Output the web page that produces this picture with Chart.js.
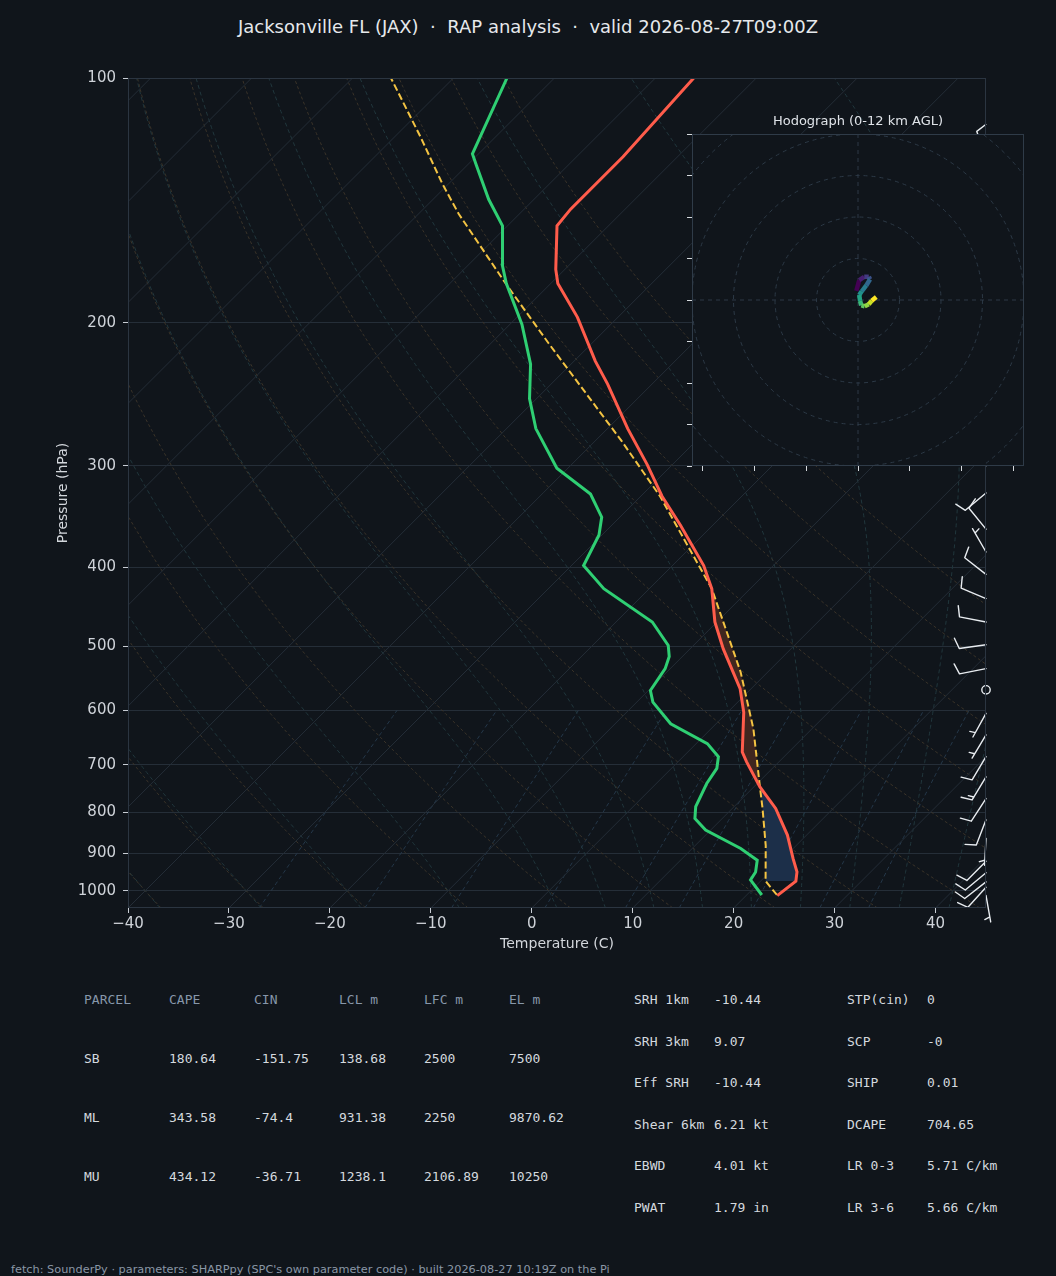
<!DOCTYPE html>
<html>
<head>
<meta charset="utf-8">
<script src="https://cdn.jsdelivr.net/npm/chart.js@4.4.1/dist/chart.umd.min.js"></script>
<style>
html, body { margin: 0; padding: 0; background: #10151b; }
#wrap { position: relative; width: 1056px; height: 1276px; overflow: hidden; font-family: 'DejaVu Sans'; }
#main { position: absolute; left: 0; top: 2px; }
#hodo { position: absolute; left: 640px; top: 100px; }
#title { position: absolute; left: 0; top: 16px; width: 1056px; text-align: center; white-space: pre;
         font-size: 18px; line-height: 22px; color: #e6e9ec; }
.t { position: absolute; white-space: pre; font-family: 'DejaVu Sans Mono'; font-size: 13px;
     line-height: 16px; color: #d4d9df; }
.h { color: #8797aa; }
#foot { position: absolute; left: 11px; top: 1263px; font-size: 11.3px; line-height: 13px;
        color: #8a97a6; white-space: pre; }
</style>
</head>
<body>
<div id="wrap">
  <div id="title">Jacksonville FL (JAX)  ·  RAP analysis  ·  valid 2026-08-27T09:00Z</div>
  <canvas id="main" width="1056" height="960"></canvas>
  <canvas id="hodo" width="416" height="400"></canvas>
  <div id="table"></div>
  <div id="foot">fetch: SounderPy · parameters: SHARPpy (SPC's own parameter code) · built 2026-08-27 10:19Z on the Pi</div>
</div>
<script>
// ---- sounding data (hPa, degC) ----
const tempP = [1014, 973, 948, 913, 854, 792, 745, 694, 675, 603, 564, 504, 467, 425, 398, 355, 327, 299, 270, 238, 223, 197, 179, 172, 152, 145, 125, 100];
const tempC = [23.1, 23.5, 22.7, 21.0, 18.1, 14.3, 10.6, 6.8, 5.4, 1.6, -1.1, -6.7, -10.2, -13.8, -16.9, -23.2, -27.9, -32.5, -38.0, -44.4, -47.9, -54.0, -59.3, -60.9, -65.1, -65.4, -65.4, -66.2];

const dewP = [1012, 970, 948, 917, 887, 842, 815, 788, 738, 707, 684, 659, 623, 586, 567, 533, 515, 499, 467, 425, 398, 365, 347, 325, 302, 270, 248, 225, 201, 179, 170, 152, 141, 128, 124, 100];
const dewC = [21.5, 18.9, 18.6, 17.6, 14.8, 9.5, 7.3, 6.2, 5.0, 4.5, 3.5, 1.1, -4.5, -8.4, -9.8, -10.5, -11.3, -12.5, -16.4, -24.5, -28.8, -30.3, -31.8, -35.2, -41.1, -47.1, -50.7, -54.0, -58.8, -64.4, -66.6, -70.5, -74.5, -79.1, -80.6, -84.7];

const parcelP = [1012, 973, 880, 792, 745, 632, 538, 425, 327, 280, 258, 212, 178, 147, 135, 118, 100];
const parcelC = [23.0, 20.5, 17.0, 13.0, 10.6, 4.2, -2.7, -13.8, -28.1, -37.3, -42.3, -54.3, -64.8, -76.0, -80.6, -87.5, -96.2];
const elP = 425;   // top of the shaded CAPE/CIN area

// wind barbs (hPa, deg, kt)
const windP   = [1013, 990, 975, 950, 920, 862, 818, 770, 724, 684, 643, 605, 566, 533, 498, 467, 437, 408, 383, 359, 324, 300, 270, 240, 210, 180, 150, 125];
const windDir = [170, 222, 232, 230, 225, 183, 201, 213, 211, 211, 211, 209, 0, 259, 262, 281, 293, 308, 330, 321, 230, 340, 265, 270, 268, 270, 265, 340];
const windSpd = [5, 10, 10, 10, 10, 5, 10, 10, 15, 10, 5, 5, 0, 10, 10, 10, 10, 10, 5, 10, 10, 10, 10, 10, 10, 10, 10, 10];

// hodograph trace (u, v)
const hodoU = [-0.4, 0.3, 1.5, 2.6, 2.9, 2.0, 0.9, 0.3, 0.5, 0.8, 1.6, 2.6, 3.3, 4.4];
const hodoV = [2.2, 4.8, 5.6, 5.6, 5.0, 3.5, 2.1, 1.2, -0.2, -1.3, -1.5, -1.0, -0.2, 0.7];

const xTicks = [-40, -30, -20, -10, 0, 10, 20, 30, 40];
const yTicks = [100, 200, 300, 400, 500, 600, 700, 800, 900, 1000];
const hodoXTicks = [-37.5, -25, -12.5, 0, 12.5, 25, 37.5];
const hodoYTicks = [-40, -30, -20, -10, 0, 10, 20, 30, 40];
const hodoRings = [10, 20, 30, 40, 50, 60];

// parameter tables
const parcelHead = ['PARCEL', 'CAPE', 'CIN', 'LCL m', 'LFC m', 'EL m'];
const parcelName = ['SB', 'ML', 'MU'];
const capeVals = ['180.64', '343.58', '434.12'];
const cinVals  = ['-151.75', '-74.4', '-36.71'];
const lclVals  = ['138.68', '931.38', '1238.1'];
const lfcVals  = ['2500', '2250', '2106.89'];
const elVals   = ['7500', '9870.62', '10250'];
const kinLabels = ['SRH 1km', 'SRH 3km', 'Eff SRH', 'Shear 6km', 'EBWD', 'PWAT'];
const kinVals   = ['-10.44', '9.07', '-10.44', '6.21 kt', '4.01 kt', '1.79 in'];
const idxLabels = ['STP(cin)', 'SCP', 'SHIP', 'DCAPE', 'LR 0-3', 'LR 3-6'];
const idxVals   = ['0', '-0', '0.01', '704.65', '5.71 C/km', '5.66 C/km'];

// ---- tables ----
const table = document.getElementById('table');
function put(txt, x, y, cls) {
  const d = document.createElement('div');
  d.className = 't' + (cls ? ' ' + cls : '');
  d.style.left = x + 'px';
  d.style.top = (y - 7) + 'px';
  d.textContent = txt;
  table.appendChild(d);
}
const colX = [84, 169, 254, 339, 424, 509];
parcelHead.forEach((h, i) => put(h, colX[i], 999, 'h'));
parcelName.forEach((n, r) => {
  const y = 1058 + r * 59;
  [n, capeVals[r], cinVals[r], lclVals[r], lfcVals[r], elVals[r]].forEach((v, i) => put(v, colX[i], y));
});
kinLabels.forEach((l, r) => {
  const y = 999 + r * 41.6;
  put(l, 634, y); put(kinVals[r], 714, y);
  put(idxLabels[r], 847, y); put(idxVals[r], 927, y);
});

// ---- skew-T helpers ----
const P_BOTTOM = 1050, P_TOP = 100;
const SKEW = 80.54;   // degC per pressure decade, gives 45 degree isotherms
const skewX = (t, p) => t + SKEW * Math.log10(P_BOTTOM / p);
const toPts = (ps, ts) => ps.map((p, i) => ({ x: skewX(ts[i], p), y: p }));

function logLevels(n) {
  const out = [];
  for (let i = 0; i <= n; i++) out.push(P_BOTTOM * Math.pow(P_TOP / P_BOTTOM, i / n));
  return out;
}
function satMix(p, tK) {
  const es = 6.112 * Math.exp(17.67 * (tK - 273.15) / (tK - 29.65));
  return 0.622 * es / (p - es);
}
function moistSlope(p, tK) {
  const rs = satMix(p, tK);
  return (287.04 * tK + 2.501e6 * rs) /
         (1005.7 + 2.501e6 * 2.501e6 * rs * 0.622 / (287.04 * tK * tK)) / p;
}
function moistLine(t0) {
  const run = (dp, pEnd) => {
    let p = 1000, t = t0 + 273.15;
    const seg = [];
    while ((dp < 0 && p > pEnd) || (dp > 0 && p < pEnd)) {
      const k1 = moistSlope(p, t);
      const k2 = moistSlope(p + dp / 2, t + k1 * dp / 2);
      const k3 = moistSlope(p + dp / 2, t + k2 * dp / 2);
      const k4 = moistSlope(p + dp, t + k3 * dp);
      t += dp * (k1 + 2 * k2 + 2 * k3 + k4) / 6;
      p += dp;
      seg.push({ x: skewX(t - 273.15, p), y: p });
    }
    return seg;
  };
  const down = run(5, P_BOTTOM).reverse();
  const up = run(-5, P_TOP);
  return down.concat([{ x: skewX(t0, 1000), y: 1000 }], up);
}
function bgLine(data, color, dash) {
  return { data, showLine: true, borderColor: color, borderWidth: 1, borderDash: dash,
           pointRadius: 0, order: 5 };
}

const bgSets = [];
for (let t = -130; t <= 40; t += 10) {
  bgSets.push(bgLine([{ x: skewX(t, P_BOTTOM), y: P_BOTTOM }, { x: skewX(t, P_TOP), y: P_TOP }], '#242d37', []));
}
const lv = logLevels(60);
for (let t0 = -40; t0 <= 90; t0 += 10) {
  bgSets.push(bgLine(lv.map(p => ({ x: skewX((t0 + 273.15) * Math.pow(p / 1000, 0.2857) - 273.15, p), y: p })),
                     '#3a3329', [3, 2.5]));
}
[-40, -30, -20, -10, 0, 5, 10, 15, 20, 25, 30, 35, 40, 45].forEach(t0 => {
  bgSets.push(bgLine(moistLine(t0), '#21373d', [4, 3]));
});
[0.4, 1, 2, 4, 7, 10, 16, 24, 32].forEach(w => {
  const pts = [];
  for (let p = P_BOTTOM; p >= 600; p -= 10) {
    const e = p * w / (622 + w);
    const l = Math.log(e / 6.112);
    pts.push({ x: skewX(243.5 * l / (17.67 - l), p), y: p });
  }
  bgSets.push(bgLine(pts, '#25384a', [4, 3]));
});

// ---- CAPE / CIN shading ----
function interpT(ps, ts, p) {
  const lp = Math.log(p);
  for (let i = 0; i < ps.length - 1; i++) {
    const a = Math.log(ps[i]), b = Math.log(ps[i + 1]);
    if (lp <= a && lp >= b) return ts[i] + (lp - a) / (b - a) * (ts[i + 1] - ts[i]);
  }
  return NaN;
}
const fillPlugin = {
  id: 'capeFill',
  beforeDatasetDraw(chart, args) {
    if (args.index !== 2) return;
    const { ctx, chartArea, scales: { x, y } } = chart;
    const pb = parcelP[1], n = 300;
    const runs = [];
    let run = [], prev = null;
    for (let k = 0; k <= n; k++) {
      const p = pb * Math.pow(elP / pb, k / n);
      const tp = interpT(parcelP, parcelC, p), te = interpT(tempP, tempC, p);
      const pt = { p, tp, te, d: tp - te };
      if (prev && Math.sign(pt.d) !== Math.sign(prev.d) && prev.d !== 0) {
        const f = prev.d / (prev.d - pt.d);
        const pc = Math.exp(Math.log(prev.p) + f * (Math.log(p) - Math.log(prev.p)));
        const tc = prev.tp + f * (tp - prev.tp);
        const c = { p: pc, tp: tc, te: tc, d: 0 };
        run.push(c); runs.push(run); run = [c];
      }
      run.push(pt); prev = pt;
    }
    runs.push(run);
    ctx.save();
    ctx.beginPath();
    ctx.rect(chartArea.left, chartArea.top, chartArea.width, chartArea.height);
    ctx.clip();
    runs.forEach(r => {
      if (r.length < 2) return;
      const mid = r[Math.floor(r.length / 2)];
      ctx.fillStyle = mid.d > 0 ? '#40261f' : '#1c2f49';
      ctx.beginPath();
      r.forEach((q, i) => {
        const px = x.getPixelForValue(skewX(q.tp, q.p)), py = y.getPixelForValue(q.p);
        i ? ctx.lineTo(px, py) : ctx.moveTo(px, py);
      });
      for (let i = r.length - 1; i >= 0; i--) {
        const q = r[i];
        ctx.lineTo(x.getPixelForValue(skewX(q.te, q.p)), y.getPixelForValue(q.p));
      }
      ctx.closePath();
      ctx.fill();
    });
    ctx.restore();
  }
};

// ---- wind barbs ----
const BARB_LEN = 27;
function drawBarb(ctx, x0, y0, dir, spd) {
  if (spd < 2.5) {
    ctx.beginPath();
    ctx.arc(x0, y0, 4.2, 0, Math.PI * 2);
    ctx.stroke();
    return;
  }
  const a = dir * Math.PI / 180;
  const dx = Math.sin(a), dy = -Math.cos(a);
  const nx = -dy, ny = dx;
  const L = BARB_LEN;
  const tx = x0 + dx * L, ty = y0 + dy * L;
  ctx.beginPath();
  ctx.moveTo(x0, y0);
  ctx.lineTo(tx, ty);
  const s = Math.round(spd / 5) * 5;
  const full = Math.floor(s / 10);
  const half = s - full * 10 >= 5;
  const sp = 0.125 * L, h = 0.4 * L, w = 0.25 * L;
  let off = 0;
  for (let i = 0; i < full; i++) {
    const bx = tx - dx * off, by = ty - dy * off;
    ctx.moveTo(bx, by);
    ctx.lineTo(bx + nx * h + dx * w / 2, by + ny * h + dy * w / 2);
    off += sp;
  }
  if (half) {
    if (full === 0) off += 1.5 * sp;
    const bx = tx - dx * off, by = ty - dy * off;
    ctx.moveTo(bx, by);
    ctx.lineTo(bx + nx * h / 2 + dx * w / 4, by + ny * h / 2 + dy * w / 4);
  }
  ctx.stroke();
}
const barbPlugin = {
  id: 'barbs',
  afterDatasetsDraw(chart) {
    const { ctx, chartArea, scales: { y } } = chart;
    ctx.save();
    ctx.strokeStyle = '#e8ecf0';
    ctx.lineWidth = 1.4;
    ctx.lineCap = 'round';
    windP.forEach((p, i) => drawBarb(ctx, chartArea.right, y.getPixelForValue(p), windDir[i], windSpd[i]));
    ctx.restore();
  },
  afterDraw(chart) {
    const { ctx, chartArea: c } = chart;
    ctx.save();
    ctx.strokeStyle = '#2b3541';
    ctx.lineWidth = 1;
    ctx.strokeRect(c.left + 0.5, c.top + 0.5, c.width - 1, c.height - 1);
    ctx.restore();
  }
};

const fmt = v => (v < 0 ? '\u2212' + Math.abs(v) : String(v));
Chart.defaults.font.family = 'DejaVu Sans';

new Chart(document.getElementById('main'), {
  type: 'scatter',
  data: {
    datasets: [
      { data: toPts(tempP, tempC), showLine: true, borderColor: '#ff5c4b', borderWidth: 3, order: 0 },
      { data: toPts(dewP, dewC), showLine: true, borderColor: '#2fcf73', borderWidth: 3, order: 0 },
      { data: toPts(parcelP, parcelC), showLine: true, borderColor: '#f4c443', borderWidth: 2,
        borderDash: [7, 3.2], order: 0 },
      ...bgSets
    ]
  },
  options: {
    responsive: false,
    animation: false,
    layout: { padding: { left: 50, top: 76, right: 70, bottom: 0 } },
    elements: { point: { radius: 0 }, line: { tension: 0 } },
    plugins: { legend: { display: false }, tooltip: { enabled: false } },
    scales: {
      x: {
        type: 'linear', min: -40, max: 45,
        afterBuildTicks: s => { s.ticks = xTicks.map(v => ({ value: v })); },
        afterFit: s => { s.height = 54; },
        grid: { drawOnChartArea: false, drawTicks: true, tickLength: 5, tickColor: '#c9ced5' },
        border: { display: false },
        ticks: { color: '#cfd3d9', font: { size: 15 }, padding: 2, maxRotation: 0, autoSkip: false,
                 callback: v => fmt(v) },
        title: { display: true, text: 'Temperature (C)', color: '#d3d7dc', font: { size: 14 },
                 padding: { top: 0, bottom: 9 } }
      },
      y: {
        type: 'logarithmic', min: P_TOP, max: P_BOTTOM, reverse: true,
        afterBuildTicks: s => { s.ticks = yTicks.map(v => ({ value: v })); },
        afterFit: s => { s.width = 78; },
        grid: { color: '#252e38', lineWidth: 1, drawTicks: true, tickLength: 5, tickColor: '#c9ced5' },
        border: { display: false },
        ticks: { color: '#cfd3d9', font: { size: 15 }, padding: 7, autoSkip: false,
                 callback: v => String(v) },
        title: { display: true, text: 'Pressure (hPa)', color: '#d3d7dc', font: { size: 14 },
                 padding: { top: 4.5, bottom: 0 } }
      }
    }
  },
  plugins: [fillPlugin, barbPlugin]
});

// ---- hodograph inset ----
const viridis = ['#440154', '#482475', '#414487', '#355f8d', '#2a788e', '#21918c',
                 '#22a884', '#44bf70', '#7ad151', '#bddf26', '#fde725'];
function viridisAt(t) {
  const f = t * (viridis.length - 1), i = Math.min(Math.floor(f), viridis.length - 2), r = f - i;
  const a = viridis[i], b = viridis[i + 1];
  const c = k => Math.round(parseInt(a.substr(k, 2), 16) * (1 - r) + parseInt(b.substr(k, 2), 16) * r);
  return 'rgb(' + c(1) + ',' + c(3) + ',' + c(5) + ')';
}
const hodoColors = hodoU.slice(1).map((_, i) => viridisAt(i / (hodoU.length - 2)));

const hodoPlugin = {
  id: 'hodoBg',
  beforeDatasetsDraw(chart) {
    const { ctx, chartArea: c, scales: { x, y } } = chart;
    ctx.save();
    ctx.fillStyle = '#10151b';
    ctx.fillRect(c.left, c.top, c.width, c.height);
    ctx.beginPath();
    ctx.rect(c.left, c.top, c.width, c.height);
    ctx.clip();
    ctx.strokeStyle = '#2c3946';
    ctx.lineWidth = 1;
    ctx.setLineDash([4, 4]);
    const cx = x.getPixelForValue(0), cy = y.getPixelForValue(0);
    hodoRings.forEach(r => {
      ctx.beginPath();
      ctx.arc(cx, cy, x.getPixelForValue(r) - cx, 0, Math.PI * 2);
      ctx.stroke();
    });
    ctx.beginPath();
    ctx.moveTo(c.left, cy); ctx.lineTo(c.right, cy);
    ctx.moveTo(cx, c.top); ctx.lineTo(cx, c.bottom);
    ctx.stroke();
    ctx.restore();
  },
  afterDraw(chart) {
    const { ctx, chartArea: c } = chart;
    ctx.save();
    ctx.strokeStyle = '#2f3b48';
    ctx.lineWidth = 1;
    ctx.strokeRect(c.left + 0.5, c.top + 0.5, c.width - 1, c.height - 1);
    ctx.fillStyle = '#dfe3e8';
    ctx.font = '13px "DejaVu Sans"';
    ctx.textAlign = 'center';
    ctx.textBaseline = 'middle';
    ctx.fillText('Hodograph (0-12 km AGL)', (c.left + c.right) / 2, c.top - 12);
    ctx.restore();
  }
};

new Chart(document.getElementById('hodo'), {
  type: 'scatter',
  data: {
    datasets: [{
      data: hodoU.map((u, i) => ({ x: u, y: hodoV[i] })),
      showLine: true, borderWidth: 4.5, pointRadius: 0, borderJoinStyle: 'round',
      segment: { borderColor: s => hodoColors[s.p0DataIndex] }
    }]
  },
  options: {
    responsive: false,
    animation: false,
    layout: { padding: { left: 42, top: 34, right: 32, bottom: 24 } },
    plugins: { legend: { display: false }, tooltip: { enabled: false } },
    scales: {
      x: {
        min: -40, max: 40,
        afterBuildTicks: s => { s.ticks = hodoXTicks.map(v => ({ value: v })); },
        afterFit: s => { s.height = 10; },
        grid: { drawOnChartArea: false, drawTicks: true, tickLength: 5, tickColor: '#d6dade' },
        border: { display: false },
        ticks: { display: false }
      },
      y: {
        min: -40, max: 40,
        afterBuildTicks: s => { s.ticks = hodoYTicks.map(v => ({ value: v })); },
        afterFit: s => { s.width = 10; },
        grid: { drawOnChartArea: false, drawTicks: true, tickLength: 5, tickColor: '#d6dade' },
        border: { display: false },
        ticks: { display: false }
      }
    }
  },
  plugins: [hodoPlugin]
});
</script>
</body>
</html>
